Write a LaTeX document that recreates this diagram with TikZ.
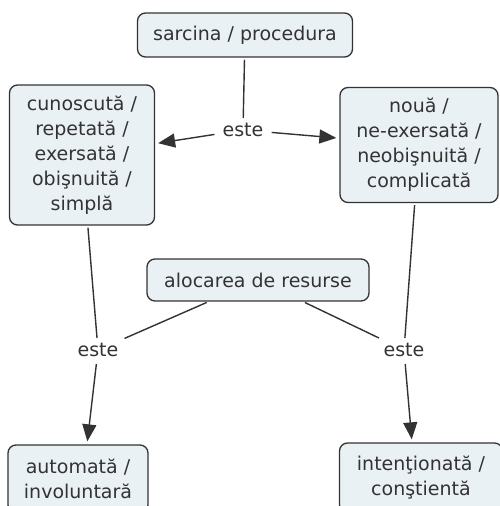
\documentclass[tikz,border=0pt]{standalone}
\usepackage{fontspec}
\setmainfont{DejaVu Sans}
\usetikzlibrary{arrows.meta}
\definecolor{boxfill}{HTML}{EAF1F4}
\definecolor{ink}{HTML}{333333}
\begin{document}
\begin{tikzpicture}[x=1pt,y=-1pt,
  concept/.style={draw=ink, fill=boxfill, rounded corners=8pt, line width=1.3pt,
    align=center, text=ink, inner sep=0pt, font=\fontsize{19}{25}\selectfont},
  linklabel/.style={text=ink, inner xsep=6pt, inner ysep=5pt, font=\fontsize{19}{25}\selectfont},
  conn/.style={draw=ink, line width=1.4pt, shorten <=2pt},
  arr/.style={conn, -{Triangle[length=17pt,width=14pt]}, shorten >=3pt}]
\clip (0,0) rectangle (500,506);
\fill[white] (0,0) rectangle (500,506);

% concepts
\node[concept, minimum width=215pt, minimum height=44pt] (task) at (245,35) {sarcina / procedura};
\node[concept, minimum width=145pt, minimum height=140pt] (known) at (82,155)
  {cunoscută /\\repetată /\\exersată /\\obişnuită /\\simplă};
\node[concept, minimum width=158pt, minimum height=115pt] (new) at (419,145)
  {nouă /\\ne-exersată /\\neobişnuită /\\complicată};
\node[concept, minimum width=222pt, minimum height=42pt] (alloc) at (258,280) {alocarea de resurse};
\node[concept, minimum width=140pt, minimum height=68pt] (auto) at (78,479) {automată /\\involuntară};
\node[concept, minimum width=163pt, minimum height=70pt] (intent) at (421,478) {intenţionată /\\conştientă};

% linking phrases
\node[linklabel] (este1) at (243,130) {este};
\node[linklabel] (este2) at (98,350) {este};
\node[linklabel] (este3) at (404,350) {este};

% connectors
\draw[conn] (task) -- (este1);
\draw[arr] (este1) -- (known);
\draw[arr] (este1) -- (new);

\draw[conn] (known) -- (este2);
\draw[conn] (alloc) -- (este2);
\draw[arr] (este2) -- ([xshift=9pt]auto.north);

\draw[conn] (new) -- (este3);
\draw[conn] (alloc) -- (este3);
\draw[arr] (este3) -- ([xshift=-9pt]intent.north);
\end{tikzpicture}
\end{document}
